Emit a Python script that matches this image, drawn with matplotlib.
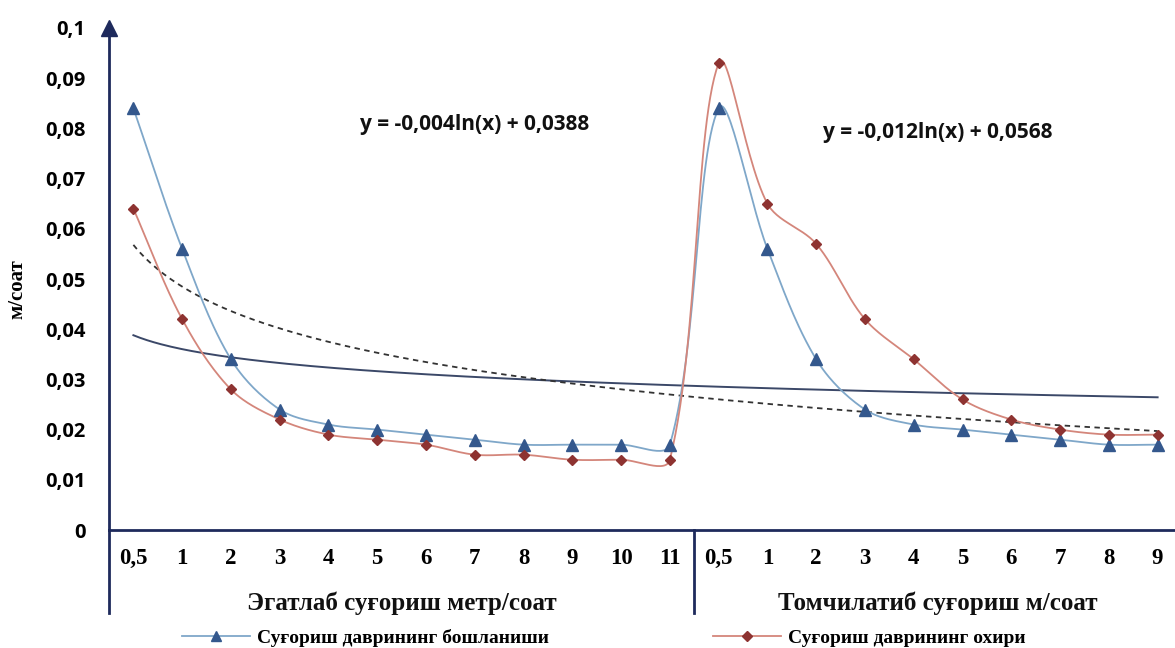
import numpy as np
import matplotlib
matplotlib.use("Agg")
import matplotlib.pyplot as plt
from matplotlib.lines import Line2D

# --- data ---
furrow_labels = ["0,5", "1", "2", "3", "4", "5", "6", "7", "8", "9", "10", "11"]
drip_labels = ["0,5", "1", "2", "3", "4", "5", "6", "7", "8", "9"]
group_names = ["Эгатлаб суғориш метр/соат", "Томчилатиб суғориш м/соат"]

start_furrow = [0.084, 0.056, 0.034, 0.024, 0.021, 0.020, 0.019, 0.018, 0.017, 0.017, 0.017, 0.017]
start_drip = [0.084, 0.056, 0.034, 0.024, 0.021, 0.020, 0.019, 0.018, 0.017, 0.017]
end_furrow = [0.064, 0.042, 0.028, 0.022, 0.019, 0.018, 0.017, 0.015, 0.015, 0.014, 0.014, 0.014]
end_drip = [0.093, 0.065, 0.057, 0.042, 0.034, 0.026, 0.022, 0.020, 0.019, 0.019]

# log trendlines shown on the chart: y = a*ln(x) + b
trend_start = (-0.004, 0.0388)
trend_end = (-0.012, 0.0568)
eq_start = "y = -0,004ln(x) + 0,0388"
eq_end = "y = -0,012ln(x) + 0,0568"

y_ticks = [0, 0.01, 0.02, 0.03, 0.04, 0.05, 0.06, 0.07, 0.08, 0.09, 0.1]
y_tick_labels = ["0", "0,01", "0,02", "0,03", "0,04", "0,05", "0,06", "0,07", "0,08", "0,09", "0,1"]

legend_start = "Суғориш даврининг бошланиши"
legend_end = "Суғориш даврининг охири"
y_title = "м/соат"

NAVY = "#1E2A5C"
BLUE_LINE = "#7FA7C9"
BLUE_MARK = "#34588D"
RED_LINE = "#D4867B"
RED_MARK = "#8E3331"


def excel_smooth(xs, ys, sx, sy, n=30):
    # Excel-like smoothed line: bezier segments, handles scaled by neighbour distances (in pixels)
    px = np.asarray(xs, float) * sx
    py = np.asarray(ys, float) * sy
    m = len(px)
    out_x, out_y = [], []
    t = np.linspace(0, 1, n)
    for i in range(m - 1):
        i0 = max(i - 1, 0)
        i3 = min(i + 2, m - 1)
        d01 = np.hypot(px[i] - px[i0], py[i] - py[i0])
        d12 = np.hypot(px[i + 1] - px[i], py[i + 1] - py[i])
        d23 = np.hypot(px[i3] - px[i + 1], py[i3] - py[i + 1])
        f1 = d12 / (d01 + d12) / 3 if d01 + d12 > 0 else 0
        f2 = d12 / (d12 + d23) / 3 if d12 + d23 > 0 else 0
        c1x = px[i] + (px[i + 1] - px[i0]) * f1
        c1y = py[i] + (py[i + 1] - py[i0]) * f1
        c2x = px[i + 1] - (px[i3] - px[i]) * f2
        c2y = py[i + 1] - (py[i3] - py[i]) * f2
        bx = (1 - t) ** 3 * px[i] + 3 * (1 - t) ** 2 * t * c1x + 3 * (1 - t) * t ** 2 * c2x + t ** 3 * px[i + 1]
        by = (1 - t) ** 3 * py[i] + 3 * (1 - t) ** 2 * t * c1y + 3 * (1 - t) * t ** 2 * c2y + t ** 3 * py[i + 1]
        out_x.extend(bx)
        out_y.extend(by)
    return np.array(out_x) / sx, np.array(out_y) / sy


fig = plt.figure(figsize=(11.75, 6.48), dpi=100)
# the category axis runs a little past the right edge of the picture, as in the original
ax = fig.add_axes([109 / 1175, 118 / 648, (1182 - 109) / 1175, (530 - 28) / 648])

labels = furrow_labels + drip_labels
x = np.arange(len(labels))
start = start_furrow + start_drip
end = end_furrow + end_drip

sx, sy = 48.8, 5020.0
for vals, lc, mc, mk, ms in [(start, BLUE_LINE, BLUE_MARK, "^", 8), (end, RED_LINE, RED_MARK, "D", 5.5)]:
    cx, cy = excel_smooth(x, vals, sx, sy)
    ax.plot(cx, cy, color=lc, lw=1.3, zorder=3)
    ax.plot(x, vals, ls="none", marker=mk, ms=ms, color=mc, zorder=4)

xt = np.linspace(1, len(labels), 300)
a, b = trend_start
ax.plot(xt - 1, a * np.log(xt) + b, color="#3B4868", lw=1.4, zorder=2)
a, b = trend_end
ax.plot(xt - 1, a * np.log(xt) + b, color="#333333", lw=1.3, ls=(0, (3, 2.5)), zorder=2)

eq_font = dict(family=["Open Sans", "DejaVu Sans"], fontsize=15, fontweight="bold", color="#111111")
ax.text(7.0, 0.0807, eq_start, ha="center", va="center", **eq_font)
ax.text(16.5, 0.0791, eq_end, ha="center", va="center", **eq_font)

ax.set_xlim(-0.5, len(labels) - 0.5)
ax.set_ylim(0, 0.1)
ax.set_xticks(x)
ax.set_xticklabels(labels, fontfamily="Liberation Serif", fontweight="bold", fontsize=16.5)
ax.set_yticks(y_ticks)
ax.set_yticklabels(y_tick_labels, fontfamily=["Open Sans", "DejaVu Sans"], fontweight="bold", fontsize=14.5)
ax.tick_params(axis="x", length=0, pad=13)
ax.tick_params(axis="y", length=0, pad=17)

for side in ["top", "right"]:
    ax.spines[side].set_visible(False)
for side in ["left", "bottom"]:
    ax.spines[side].set_color(NAVY)
    ax.spines[side].set_linewidth(2)

# arrow head on the y axis
ax.plot([-0.5], [0.1], marker="^", ms=11, color=NAVY, clip_on=False, zorder=5)

# separators below the x axis
trans = ax.get_xaxis_transform()
for xv in [-0.5, len(furrow_labels) - 0.5]:
    ax.plot([xv, xv], [0, -0.165], color=NAVY, lw=2, transform=trans, clip_on=False)

grp_font = dict(family="Liberation Serif", fontsize=18, fontweight="bold", color="#111111")
ax.text((len(furrow_labels) - 1) / 2, -0.145, group_names[0], transform=trans, ha="center", va="center", **grp_font)
ax.text(len(furrow_labels) + (len(drip_labels) - 1) / 2, -0.145, group_names[1], transform=trans,
        ha="center", va="center", **grp_font)

ax.set_ylabel(y_title, fontfamily="Liberation Serif", fontweight="bold", fontsize=15, labelpad=8)
ax.yaxis.set_label_coords(-0.076, 0.48)

leg_font = dict(family="Liberation Serif", weight="bold", size=14)
h1 = Line2D([], [], color=BLUE_LINE, lw=1.3, marker="^", ms=7.5, mfc=BLUE_MARK, mec=BLUE_MARK)
h2 = Line2D([], [], color=RED_LINE, lw=1.3, marker="D", ms=5.5, mfc=RED_MARK, mec=RED_MARK)
fig.legend(handles=[h1], labels=[legend_start], loc="center left", bbox_to_anchor=(182 / 1175, 1 - 638 / 648),
           frameon=False, prop=leg_font, handlelength=3.5, handletextpad=0.35, borderaxespad=0, borderpad=0)
fig.legend(handles=[h2], labels=[legend_end], loc="center left", bbox_to_anchor=(713 / 1175, 1 - 638 / 648),
           frameon=False, prop=leg_font, handlelength=3.5, handletextpad=0.35, borderaxespad=0, borderpad=0)

fig.savefig("out.png", dpi=100)
